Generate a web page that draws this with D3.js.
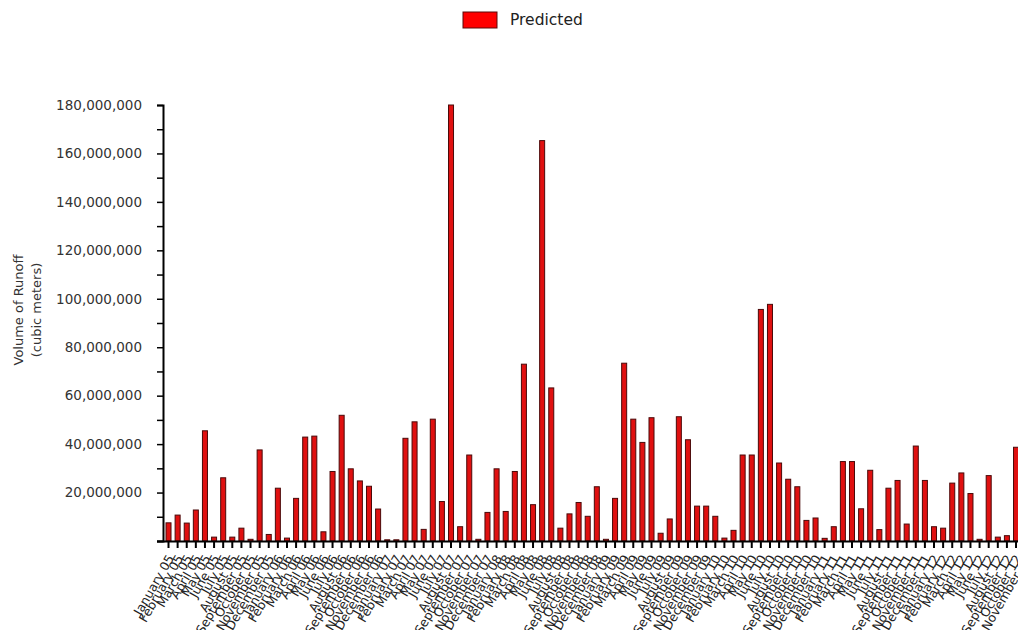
<!DOCTYPE html>
<html>
<head>
<meta charset="utf-8">
<script src="https://cdn.jsdelivr.net/npm/d3@7"></script>
<style>
  html, body { margin: 0; padding: 0; background: #fff; overflow: hidden; }
  svg { display: block; }
  text { font-family: "DejaVu Sans", Verdana, sans-serif; }
</style>
</head>
<body>
<svg id="chart" width="1018" height="630"></svg>
<script>
// Monthly predicted runoff volume (cubic meters)
const months = ["January", "February", "March", "April", "May", "June",
  "July", "August", "September", "October", "November", "December"];
const years = ["05", "06", "07", "08", "09", "10", "11", "12"];

const predicted = [
  7.5e6, 10.7e6, 7.4e6, 12.8e6, 45.5e6, 1.6e6, 26.1e6, 1.6e6, 5.3e6, 0.7e6, 37.6e6, 2.7e6,
  21.8e6, 1.2e6, 17.6e6, 42.9e6, 43.3e6, 3.8e6, 28.7e6, 51.9e6, 29.8e6, 24.8e6, 22.6e6, 13.2e6,
  0.5e6, 0.5e6, 42.4e6, 49.2e6, 4.8e6, 50.3e6, 16.3e6, 180e6, 5.9e6, 35.5e6, 0.7e6, 11.8e6,
  29.8e6, 12.2e6, 28.7e6, 73.0e6, 15.0e6, 165.3e6, 63.2e6, 5.3e6, 11.2e6, 15.9e6, 10.2e6, 22.4e6,
  0.7e6, 17.6e6, 73.4e6, 50.3e6, 40.7e6, 50.9e6, 3.2e6, 9.1e6, 51.3e6, 41.8e6, 14.4e6, 14.4e6,
  10.2e6, 1.2e6, 4.4e6, 35.5e6, 35.5e6, 95.6e6, 97.7e6, 32.2e6, 25.5e6, 22.4e6, 8.5e6, 9.5e6,
  1.1e6, 5.9e6, 32.8e6, 32.8e6, 13.3e6, 29.2e6, 4.7e6, 21.8e6, 25.0e6, 7.0e6, 39.2e6, 25.0e6,
  5.9e6, 5.3e6, 23.9e6, 28.1e6, 19.6e6, 0.7e6, 27.0e6, 1.6e6, 2.2e6, 38.7e6, 9.1e6
];

const categories = predicted.map((d, i) =>
  months[i % 12] + " " + years[Math.floor(i / 12)]);

const yTicks = d3.range(0, 180e6 + 1, 10e6);
const yLabels = d3.range(20e6, 180e6 + 1, 20e6);

const svg = d3.select("#chart");
const plotTop = 105, plotBottom = 541, plotLeft = 163;
const step = 9.07;

const x = d3.scaleBand()
  .domain(categories)
  .range([166, 166 + step * categories.length])
  .paddingInner(0.45)
  .paddingOuter(0);

const y = d3.scaleLinear().domain([0, 180e6]).range([plotBottom, plotTop]);

// Bars
svg.append("g").selectAll("rect")
  .data(predicted)
  .join("rect")
  .attr("x", (d, i) => x(categories[i]))
  .attr("y", d => y(d))
  .attr("width", x.bandwidth())
  .attr("height", d => plotBottom - y(d))
  .attr("fill", "#e01010")
  .attr("stroke", "#4a0a0a")
  .attr("stroke-width", 1);

// Y axis: ticks every 10M, labels every 20M
const yAxis = d3.axisLeft(y)
  .tickValues(yTicks)
  .tickSize(6)
  .tickFormat(d => yLabels.includes(d) ? d3.format(",")(d) : "");
const gy = svg.append("g").attr("transform", `translate(${plotLeft},0)`).call(yAxis);
gy.select(".domain").attr("stroke", "#000").attr("stroke-width", 2);
gy.selectAll(".tick line").attr("stroke", "#000").attr("stroke-width", 1.5);
gy.selectAll(".tick text")
  .attr("x", -21)
  .attr("fill", "#333")
  .style("font-size", "13.5px")
  .style("font-family", "'DejaVu Sans', Verdana, sans-serif");

// X axis: one tick per month
const xAxis = d3.axisBottom(x).tickSize(7).tickSizeOuter(0);
const gx = svg.append("g").attr("transform", `translate(0,${plotBottom})`).call(xAxis);
gx.select(".domain")
  .attr("d", `M${plotLeft - 6},0.5H1018`)
  .attr("stroke", "#000").attr("stroke-width", 2);
gx.selectAll(".tick line").attr("stroke", "#000").attr("stroke-width", 2);
gx.selectAll(".tick text")
  .attr("y", 0).attr("dy", 0)
  .attr("text-anchor", "end")
  .attr("transform", "translate(6,17) rotate(-60)")
  .attr("fill", "#222")
  .style("font-size", "12.5px")
  .style("font-family", "'DejaVu Sans', Verdana, sans-serif");

// Y axis title
const yTitle = svg.append("text")
  .attr("transform", "translate(23,310) rotate(-90)")
  .attr("text-anchor", "middle")
  .attr("fill", "#333")
  .style("font-size", "13px");
yTitle.append("tspan").attr("x", 0).attr("dy", 0).text("Volume of Runoff");
yTitle.append("tspan").attr("x", 0).attr("dy", 18).text("(cubic meters)");

// Legend
const legend = svg.append("g").attr("transform", "translate(463,12)");
legend.append("rect")
  .attr("width", 34).attr("height", 16)
  .attr("fill", "#ff0000").attr("stroke", "#5a0a0a").attr("stroke-width", 1);
legend.append("text")
  .attr("x", 47).attr("y", 13)
  .attr("fill", "#222")
  .style("font-size", "15.5px")
  .text("Predicted");
</script>
</body>
</html>
